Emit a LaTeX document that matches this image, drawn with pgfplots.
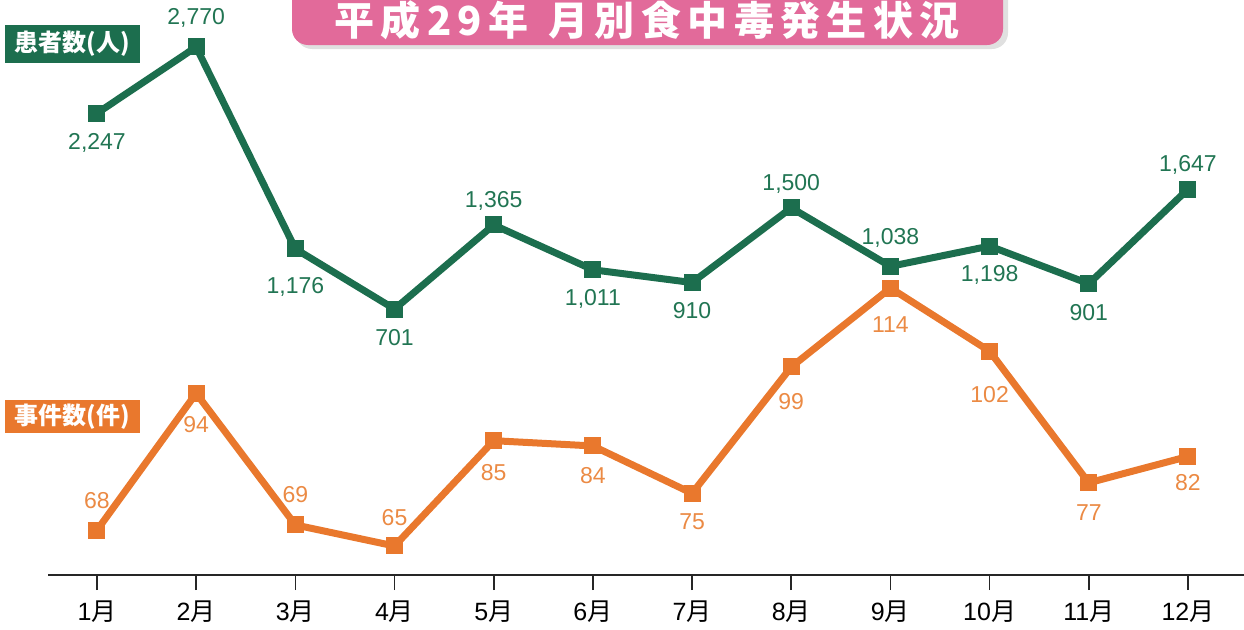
\documentclass[border=0pt]{standalone}
\usepackage{pgfplots}
\pgfplotsset{compat=1.18}
\usepackage{fontspec}
\setmainfont{Liberation Sans}
\newfontfamily\jp{Noto Sans CJK JP}
\newfontfamily\jptitle[LetterSpace=16]{Noto Sans CJK JP}
\definecolor{cgreen}{HTML}{1C6E4E}
\definecolor{lgreen}{HTML}{217553}
\definecolor{corange}{HTML}{E9782D}
\definecolor{lorange}{HTML}{EB8A44}
\definecolor{cpink}{HTML}{E26A9A}
\pgfplotstableread{
x y lab dy
1 2247 2,247 -15
2 2770 2,770 14.5
3 1176 1,176 -19
4 701 701 -14.5
5 1365 1,365 12
6 1011 1,011 -14.5
7 910 910 -14
8 1500 1,500 12
9 1038 1,038 14
10 1198 1,198 -14.5
11 901 901 -14.5
12 1647 1,647 12
}\patients
\pgfplotstableread{
x y lab dy
1 68 68 15
2 94 94 -15.5
3 69 69 15
4 65 65 14
5 85 85 -16
6 84 84 -15
7 75 75 -14
8 99 99 -17.5
9 114 114 -18.5
10 102 102 -21.5
11 77 77 -15
12 82 82 -13
}\incidents
\begin{document}
\begin{tikzpicture}
\useasboundingbox (0,0) rectangle (622pt,314.5pt);
\clip (0,0) rectangle (622pt,314.5pt);
% title
\fill[black!12,rounded corners=8pt] (148pt,290pt) rectangle (504pt,330pt);
\fill[cpink,rounded corners=8pt] (146pt,292pt) rectangle (501.5pt,330pt);
\node[text=white,font=\jptitle\bfseries\fontsize{20}{22}\selectfont, inner sep=0pt] at (323.5pt,304.3pt) {平成29年\hspace{0.5em}月別食中毒発生状況};
% series labels
\fill[cgreen] (2.5pt,283pt) rectangle (70pt,302pt);
\node[text=white,font=\jp\bfseries\fontsize{12}{14}\selectfont] at (36.25pt,292.5pt) {患者数(人)};
\fill[corange] (2.5pt,98pt) rectangle (70pt,114.5pt);
\node[text=white,font=\jp\bfseries\fontsize{12}{14}\selectfont] at (36.25pt,106.25pt) {事件数(件)};
% incidents axis
\begin{axis}[
  at={(24pt,27pt)}, anchor=south west, scale only axis,
  width=598pt, height=287.5pt,
  xmin=0.506, xmax=12.565, ymin=59.49, ymax=168.7,
  hide axis, clip=false]
\addplot[corange, line width=3.5pt, line join=round, mark=square*, mark size=4pt,
  mark options={fill=corange, line width=0pt},
  nodes near coords, point meta=explicit symbolic,
  visualization depends on={\thisrow{dy} \as \dy},
  every node near coord/.append style={anchor=center, yshift=\dy pt, text=lorange,
    font=\fontsize{11.5}{13}\selectfont}]
  table[x=x, y=y, meta=lab] {\incidents};
\end{axis}
% patients axis
\begin{axis}[
  at={(24pt,27pt)}, anchor=south west, scale only axis,
  width=598pt, height=287.5pt,
  xmin=0.506, xmax=12.565, ymin=-1399, ymax=3141,
  axis x line=bottom, axis y line=none,
  x axis line style={-, line width=1pt, black!85},
  xtick={1,...,12},
  xticklabels={{1{\jp 月}},{2{\jp 月}},{3{\jp 月}},{4{\jp 月}},{5{\jp 月}},{6{\jp 月}},{7{\jp 月}},{8{\jp 月}},{9{\jp 月}},{10{\jp 月}},{11{\jp 月}},{12{\jp 月}}},
  xticklabel style={font=\fontsize{12.5}{14}\selectfont, yshift=-2pt},
  tick align=outside, major tick length=7.5pt,
  tick style={black!85, line width=0.8pt},
  clip=false]
\addplot[cgreen, line width=3.5pt, line join=round, mark=square*, mark size=4pt,
  mark options={fill=cgreen, line width=0pt},
  nodes near coords, point meta=explicit symbolic,
  visualization depends on={\thisrow{dy} \as \dy},
  every node near coord/.append style={anchor=center, yshift=\dy pt, text=lgreen,
    font=\fontsize{11.5}{13}\selectfont}]
  table[x=x, y=y, meta=lab] {\patients};
\end{axis}
\end{tikzpicture}
\end{document}
